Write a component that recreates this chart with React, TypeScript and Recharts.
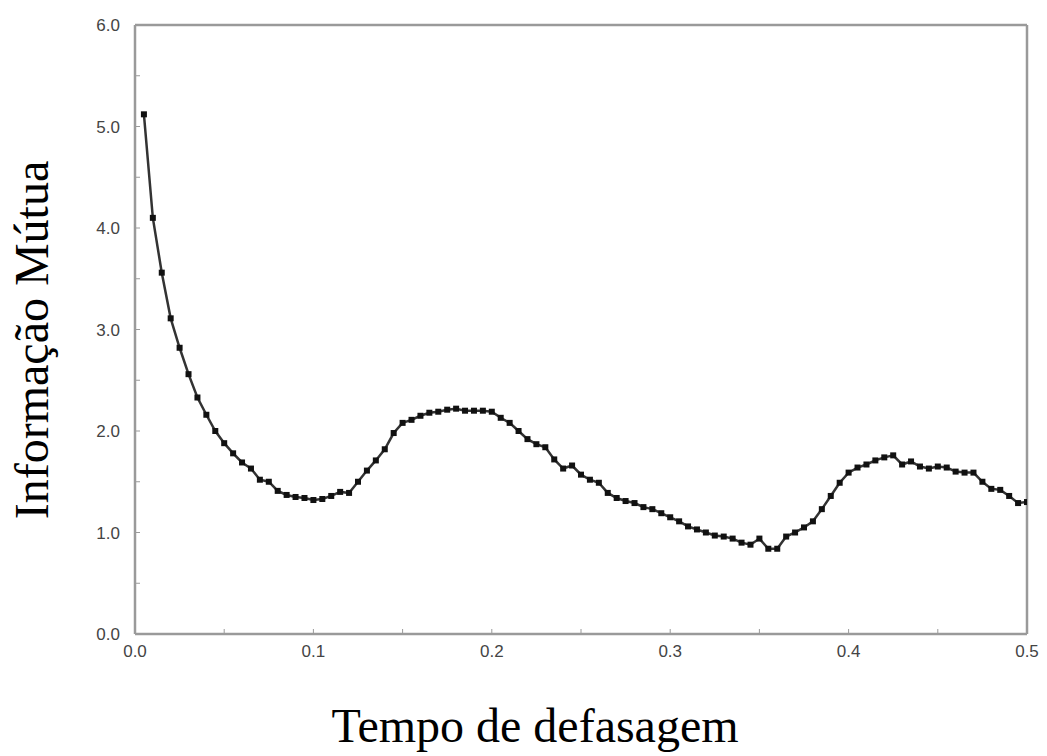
import { LineChart, Line, XAxis, YAxis, Label } from 'recharts';

// lag times (s)
const lags = [
  0.005, 0.01, 0.015, 0.02, 0.025, 0.03, 0.035, 0.04, 0.045, 0.05,
  0.055, 0.06, 0.065, 0.07, 0.075, 0.08, 0.085, 0.09, 0.095, 0.1,
  0.105, 0.11, 0.115, 0.12, 0.125, 0.13, 0.135, 0.14, 0.145, 0.15,
  0.155, 0.16, 0.165, 0.17, 0.175, 0.18, 0.185, 0.19, 0.195, 0.2,
  0.205, 0.21, 0.215, 0.22, 0.225, 0.23, 0.235, 0.24, 0.245, 0.25,
  0.255, 0.26, 0.265, 0.27, 0.275, 0.28, 0.285, 0.29, 0.295, 0.3,
  0.305, 0.31, 0.315, 0.32, 0.325, 0.33, 0.335, 0.34, 0.345, 0.35,
  0.355, 0.36, 0.365, 0.37, 0.375, 0.38, 0.385, 0.39, 0.395, 0.4,
  0.405, 0.41, 0.415, 0.42, 0.425, 0.43, 0.435, 0.44, 0.445, 0.45,
  0.455, 0.46, 0.465, 0.47, 0.475, 0.48, 0.485, 0.49, 0.495, 0.5,
];

// mutual information
const mutualInfo = [
  5.12, 4.10, 3.56, 3.11, 2.82, 2.56, 2.33, 2.16, 2.00, 1.88,
  1.78, 1.69, 1.63, 1.52, 1.50, 1.41, 1.37, 1.35, 1.34, 1.32,
  1.33, 1.36, 1.40, 1.39, 1.50, 1.61, 1.71, 1.82, 1.98, 2.08,
  2.11, 2.15, 2.18, 2.19, 2.21, 2.22, 2.20, 2.20, 2.20, 2.19,
  2.13, 2.08, 2.00, 1.92, 1.87, 1.84, 1.72, 1.63, 1.66, 1.57,
  1.52, 1.49, 1.39, 1.34, 1.31, 1.29, 1.25, 1.23, 1.19, 1.15,
  1.11, 1.06, 1.03, 1.00, 0.97, 0.96, 0.94, 0.90, 0.88, 0.94,
  0.84, 0.84, 0.96, 1.00, 1.05, 1.11, 1.23, 1.36, 1.49, 1.59,
  1.64, 1.67, 1.71, 1.74, 1.76, 1.67, 1.70, 1.65, 1.63, 1.65,
  1.64, 1.60, 1.59, 1.59, 1.50, 1.43, 1.42, 1.36, 1.29, 1.30,
];

const xTicks = [0, 0.05, 0.1, 0.15, 0.2, 0.25, 0.3, 0.35, 0.4, 0.45, 0.5];
const yTicks = [0, 0.5, 1, 1.5, 2, 2.5, 3, 3.5, 4, 4.5, 5, 5.5, 6];

const data = lags.map((lag, i) => ({ lag, mi: mutualInfo[i] }));

const frame = { stroke: '#9a9a9a', strokeWidth: 2.5 };
const tickFont = { fontFamily: 'Liberation Sans, Arial, sans-serif', fontSize: 17, fill: '#444' };
const titleFont = 'Liberation Serif, Times New Roman, serif';

const xFmt = (v: number) => (Math.round(v * 100) % 10 === 0 ? v.toFixed(1) : '');
const yFmt = (v: number) => (Math.round(v * 10) % 10 === 0 ? v.toFixed(1) : '');

const Square = (p: any) => {
  if (p.cx == null || p.cy == null) return <g key={p.key} />;
  return <rect key={p.key} x={p.cx - 3} y={p.cy - 3} width={6} height={6} fill="#111" />;
};

export default function App() {
  return (
    <div style={{ width: 1047, height: 756, background: '#fff' }}>
      <style>{'body{margin:0}'}</style>
      <LineChart width={1047} height={756} data={data} margin={{ top: 24, right: 19, bottom: 92, left: 0 }}>
        <XAxis
          dataKey="lag"
          type="number"
          domain={[0, 0.5]}
          ticks={xTicks}
          tickFormatter={xFmt}
          axisLine={frame}
          tickLine={{ stroke: '#9a9a9a' }}
          tickSize={-5}
          tickMargin={16}
          tick={tickFont}
          height={30}
          allowDataOverflow
        >
          <Label
            content={() => (
              <text x={535} y={742} textAnchor="middle" fontFamily={titleFont} fontSize={48} fill="#000">
                Tempo de defasagem
              </text>
            )}
          />
        </XAxis>
        <XAxis
          xAxisId="top"
          dataKey="lag"
          orientation="top"
          type="number"
          domain={[0, 0.5]}
          ticks={xTicks}
          tick={false}
          tickSize={-5}
          axisLine={frame}
          tickLine={{ stroke: '#9a9a9a' }}
          height={1}
          allowDataOverflow
        />
        <YAxis
          type="number"
          domain={[0, 6]}
          ticks={yTicks}
          tickFormatter={yFmt}
          axisLine={frame}
          tickLine={{ stroke: '#9a9a9a' }}
          tickSize={-5}
          tickMargin={20}
          tick={tickFont}
          width={135}
        >
          <Label
            content={() => (
              <text
                x={48}
                y={340}
                transform="rotate(-90 48 340)"
                textAnchor="middle"
                fontFamily={titleFont}
                fontSize={48}
                fill="#000"
              >
                Informação Mútua
              </text>
            )}
          />
        </YAxis>
        <YAxis
          yAxisId="right"
          orientation="right"
          type="number"
          domain={[0, 6]}
          ticks={yTicks}
          tick={false}
          tickSize={-5}
          axisLine={frame}
          tickLine={{ stroke: '#9a9a9a' }}
          width={1}
        />
        <Line
          type="linear"
          dataKey="mi"
          stroke="#333"
          strokeWidth={2.5}
          dot={Square}
          activeDot={false}
          isAnimationActive={false}
        />
        <Line
          xAxisId="top"
          yAxisId="right"
          dataKey="mi"
          stroke="none"
          dot={false}
          activeDot={false}
          legendType="none"
          isAnimationActive={false}
        />
      </LineChart>
    </div>
  );
}
